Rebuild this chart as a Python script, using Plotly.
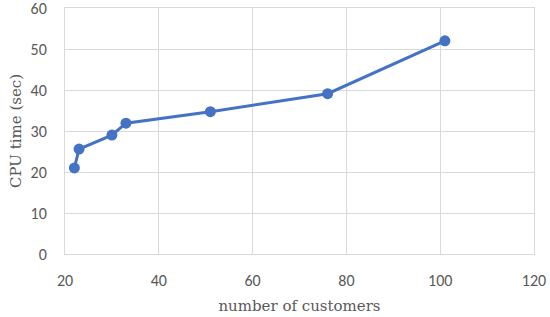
import plotly.graph_objects as go

# number of customers vs CPU time
customers = [22, 23, 30, 33, 51, 76, 101]
cpu_time = [21.0, 25.6, 29.0, 31.9, 34.7, 39.1, 52.0]

x_ticks = [20, 40, 60, 80, 100, 120]
y_ticks = [0, 10, 20, 30, 40, 50, 60]

BLUE = "#4472C4"
GRID = "#D9D9D9"
TICK = "#595959"
SERIF = "'DejaVu Serif', 'Liberation Serif', serif"

fig = go.Figure()
fig.add_trace(go.Scatter(
    x=customers,
    y=cpu_time,
    mode="lines+markers",
    line=dict(color=BLUE, width=3),
    marker=dict(color=BLUE, size=11),
    showlegend=False,
))

fig.update_layout(
    width=550,
    height=317,
    paper_bgcolor="white",
    plot_bgcolor="white",
    margin=dict(l=65, r=16, t=8, b=63),
    font=dict(family="Carlito, Calibri, 'Open Sans', sans-serif", color=TICK),
)
fig.update_xaxes(
    range=[20, 120],
    tickvals=x_ticks,
    automargin=False,
    showgrid=True, gridcolor=GRID, gridwidth=1,
    showline=True, linecolor=GRID, linewidth=1, mirror=True,
    zeroline=False,
    ticks="", ticklabelstandoff=12, ticklabeloverflow="allow",
    tickfont=dict(size=16, color=TICK),
    title=dict(text="number of customers", standoff=11,
               font=dict(family=SERIF, size=15, color=TICK)),
)
fig.update_yaxes(
    range=[0, 60],
    tickvals=y_ticks,
    automargin=False,
    showgrid=True, gridcolor=GRID, gridwidth=1,
    showline=True, linecolor=GRID, linewidth=1, mirror=True,
    zeroline=False,
    ticks="", ticklabelstandoff=14, ticklabeloverflow="allow",
    tickfont=dict(size=16, color=TICK),
    title=dict(text="CPU time (sec)", standoff=5,
               font=dict(family=SERIF, size=15, color=TICK)),
)

# drop the browser's default 8px body margin so the figure sits at (0, 0)
fig.write_html(
    "out.html",
    config={"displayModeBar": False},
    post_script="document.body.style.margin='0';",
)
